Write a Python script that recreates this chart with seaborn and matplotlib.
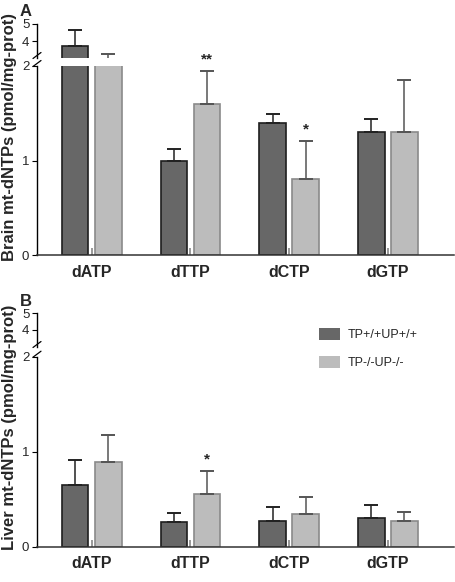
import matplotlib
matplotlib.use("Agg")
import matplotlib.pyplot as plt
import seaborn as sns
import pandas as pd
import numpy as np

sns.set_style("ticks")
plt.rcParams['font.family'] = ['Liberation Sans', 'DejaVu Sans']

# --- data ---
nucleotides = ['dATP', 'dTTP', 'dCTP', 'dGTP']
genotypes = ['TP+/+UP+/+', 'TP-/-UP-/-']

brain_wt = [3.70, 1.00, 1.40, 1.30]
brain_wt_sd = [0.95, 0.12, 0.09, 0.14]
brain_ko = [2.70, 1.60, 0.80, 1.30]
brain_ko_sd = [0.54, 0.35, 0.41, 0.55]

liver_wt = [0.65, 0.26, 0.27, 0.30]
liver_wt_sd = [0.26, 0.09, 0.15, 0.14]
liver_ko = [0.89, 0.56, 0.34, 0.27]
liver_ko_sd = [0.29, 0.24, 0.18, 0.10]

# significance marks: (nucleotide, genotype, label)
brain_sig = [('dTTP', 'TP-/-UP-/-', '**'), ('dCTP', 'TP-/-UP-/-', '*')]
liver_sig = [('dTTP', 'TP-/-UP-/-', '*')]

fill_colors = ['#676767', '#bcbcbc']
edge_colors = ['#1e1e1e', '#8a8a8a']
err_colors = ['#222222', '#555555']


def make_df(wt, wt_sd, ko, ko_sd):
    return pd.DataFrame({
        'nt': nucleotides * 2,
        'genotype': [genotypes[0]] * 4 + [genotypes[1]] * 4,
        'value': wt + ko,
        'sd': wt_sd + ko_sd,
    })


def draw_bars(ax, df, legend=False):
    sns.barplot(data=df, x='nt', y='value', hue='genotype', order=nucleotides,
                hue_order=genotypes, palette=fill_colors, width=0.672, gap=0.2,
                errorbar=None, saturation=1, ax=ax, legend=legend)
    bar_conts = list(ax.containers)
    centers = {}
    for i, cont in enumerate(bar_conts):
        g = genotypes[i]
        sub = df[df['genotype'] == g].set_index('nt').loc[nucleotides]
        xs = []
        for p in cont.patches:
            p.set_edgecolor(edge_colors[i])
            p.set_linewidth(1.2)
            xs.append(p.get_x() + p.get_width() / 2)
        ax.errorbar(xs, sub['value'], yerr=[np.zeros(len(xs)), sub['sd']],
                    fmt='none', ecolor=err_colors[i], elinewidth=1.1,
                    capsize=4.8, capthick=1.4, zorder=1)
        for nt, x in zip(nucleotides, xs):
            centers[(nt, g)] = (x, sub.loc[nt, 'value'] + sub.loc[nt, 'sd'])
    ax.set_xlim(-0.554, 3.67)
    ax.set_xlabel('')
    ax.set_ylabel('')
    return centers


def panel(fig, up_rect, low_rect, df, sig, ylabel, letter, label_y, legend=False):
    ax_up = fig.add_axes(up_rect)
    ax_low = fig.add_axes(low_rect)
    draw_bars(ax_up, df)
    centers = draw_bars(ax_low, df, legend=legend)

    ax_up.set_ylim(3, 5)
    ax_up.set_yticks([4, 5])
    ax_up.set_xticks([])
    for s in ['top', 'right', 'bottom']:
        ax_up.spines[s].set_visible(False)

    ax_low.set_ylim(0, 2)
    ax_low.set_yticks([0, 1, 2])
    for s in ['top', 'right']:
        ax_low.spines[s].set_visible(False)

    for ax in (ax_up, ax_low):
        ax.patch.set_alpha(0)
        ax.spines['left'].set_linewidth(1.0)
        ax.spines['left'].set_color('black')
        ax.tick_params(axis='y', direction='out', length=3.5, width=0.8,
                       pad=2, labelsize=9.5, color='black')
    ax_low.spines['bottom'].set_linewidth(1.1)
    ax_low.spines['bottom'].set_color('#333333')
    ax_low.tick_params(axis='x', direction='in', length=5, width=1.2,
                       color='#888888', pad=7)
    for t in ax_low.get_xticklabels():
        t.set_fontweight('bold')
        t.set_fontsize(11.5)

    # break marks on the left spine
    dx = 4 / 417
    kw = dict(color='black', lw=0.9, clip_on=False)
    h_up = up_rect[3] * 582
    h_low = low_rect[3] * 582
    yc = 2.5 / h_up
    ax_up.plot([-dx, dx], [yc - 3 / h_up, yc + 3 / h_up], transform=ax_up.transAxes, **kw)
    yc = 1 + 2.5 / h_low
    ax_low.plot([-dx, dx], [yc - 3 / h_low, yc + 3 / h_low], transform=ax_low.transAxes, **kw)

    for nt, g, txt in sig:
        x, y = centers[(nt, g)]
        ax_low.annotate(txt, (x, y), xytext=(0, 5), textcoords='offset points',
                        ha='center', va='baseline', fontsize=11, fontweight='bold',
                        annotation_clip=False)

    fig.text(10 / 455, 1 - label_y / 582, ylabel, rotation=90, ha='center',
             va='center', fontsize=12, fontweight='bold')
    fig.text(26 / 455, 1 - (label_y - 126) / 582, letter, ha='center', va='center',
             fontsize=12, fontweight='bold')
    return ax_up, ax_low


fig = plt.figure(figsize=(4.55, 5.82), dpi=100)
L, W = 37 / 455, 417 / 455

df_brain = make_df(brain_wt, brain_wt_sd, brain_ko, brain_ko_sd)
df_liver = make_df(liver_wt, liver_wt_sd, liver_ko, liver_ko_sd)

panel(fig, [L, 1 - 58 / 582, W, 34 / 582], [L, 1 - 255 / 582, W, 189 / 582],
      df_brain, brain_sig, 'Brain mt-dNTPs (pmol/mg-prot)', 'A', 137)
_, axb = panel(fig, [L, 1 - 347 / 582, W, 34 / 582], [L, 1 - 546.7 / 582, W, 190 / 582],
               df_liver, liver_sig, 'Liver mt-dNTPs (pmol/mg-prot)', 'B', 427.5,
               legend=True)

sns.move_legend(axb, 'upper left', bbox_to_anchor=(319 / 455, 1 - 328 / 582),
                bbox_transform=fig.transFigure, frameon=False, title=None,
                fontsize=9, handlelength=1.65, handleheight=1.07,
                handletextpad=0.65, labelspacing=1.2, borderpad=0, borderaxespad=0)
for h in axb.get_legend().legend_handles:
    h.set_edgecolor('none')

fig.savefig('out.png', dpi=100)
